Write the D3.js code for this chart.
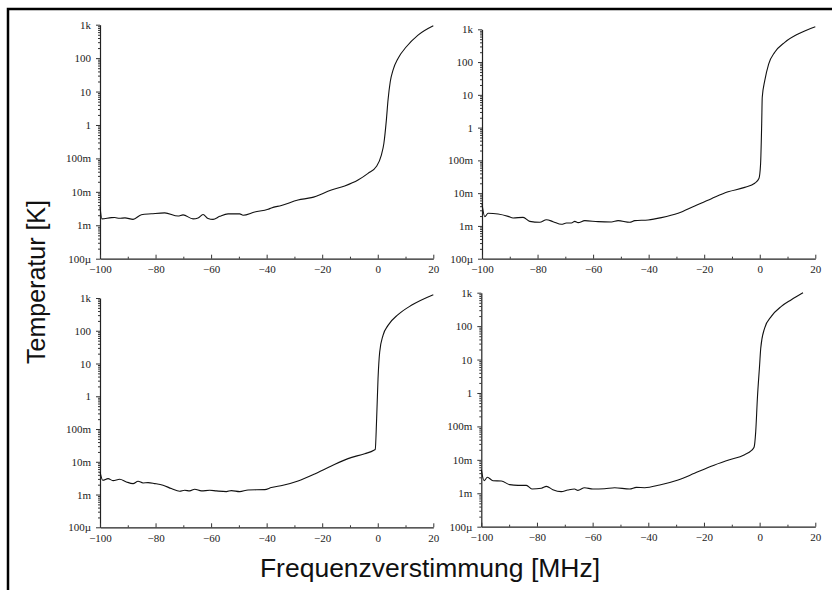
<!DOCTYPE html>
<html>
<head>
<meta charset="utf-8">
<script src="https://cdn.jsdelivr.net/npm/d3@7"></script>
<style>
  body { margin: 0; background: #fff; }
  svg { display: block; }
  .title { font-family: "Liberation Sans", Arial, sans-serif; fill: #111; }
</style>
</head>
<body>
<div id="chart"></div>
<script>
// Data (frequency detuning in MHz, temperature in K)
const yTickValues = [1e-4, 1e-3, 1e-2, 1e-1, 1, 10, 100, 1000];
const yTickLabels = ['100\u00b5', '1m', '10m', '100m', '1', '10', '100', '1k'];
const xTickValues = [-100, -80, -60, -40, -20, 0, 20];
const xMinorValues = [-90, -70, -50, -30, -10, 10];

const p1Freq = [-100, -99.3, -95.9, -94.7, -93, -91, -88.1, -85.1, -81.5, -76.7, -71.9, -70.1, -66.5, -64.7, -62.9, -61.1, -59.3, -56.9, -53.9, -49.7, -48.5, -44.3, -39.5, -38.3, -34.7, -28.7, -23.9, -16.7, -11.9, -7.1, -3.5, -0.5, 1.3, 2.2, 3.1, 3.7, 4.5, 5.5, 7.3, 10.3, 14.5, 20];
const p1Temp = [3.6e-3, 1.55e-3, 1.69e-3, 1.7e-3, 1.62e-3, 1.66e-3, 1.5e-3, 2.07e-3, 2.2e-3, 2.35e-3, 1.9e-3, 2.05e-3, 1.55e-3, 1.65e-3, 2.1e-3, 1.6e-3, 1.5e-3, 1.85e-3, 2.2e-3, 2.2e-3, 2.0e-3, 2.5e-3, 3.0e-3, 3.3e-3, 3.9e-3, 5.7e-3, 6.7e-3, 11.3e-3, 15e-3, 22.6e-3, 35.7e-3, 57e-3, 0.126, 0.28, 1.4, 5.6, 19.7, 44, 98, 219, 490, 933];

const p2Freq = [-100, -99, -97.8, -94.2, -90.6, -88.8, -85.2, -82.8, -79.2, -76.8, -74.4, -71.4, -69.6, -67.8, -66.6, -65.4, -63, -58.2, -53.4, -51, -46.8, -45, -40.2, -35.4, -29.4, -23.4, -17.4, -11.4, -5.4, -1.8, -0.3, 0.3, 0.7, 0.9, 1.8, 3.2, 5.4, 9, 13.8, 20];
const p2Temp = [4.7e-3, 1.92e-3, 2.43e-3, 2.31e-3, 1.96e-3, 1.75e-3, 1.83e-3, 1.38e-3, 1.29e-3, 1.55e-3, 1.35e-3, 1.12e-3, 1.23e-3, 1.23e-3, 1.38e-3, 1.26e-3, 1.45e-3, 1.35e-3, 1.32e-3, 1.45e-3, 1.29e-3, 1.45e-3, 1.52e-3, 1.79e-3, 2.43e-3, 4.07e-3, 6.8e-3, 11e-3, 15e-3, 20e-3, 28e-3, 78e-3, 1.3, 8.4, 27, 87, 199, 400, 720, 1200];

const p3Freq = [-100, -99, -97.1, -95.3, -92.9, -90.5, -88.1, -86.3, -84.5, -82.7, -80.3, -77.3, -74.3, -71.3, -69.5, -67.7, -65.9, -63.5, -60.5, -58.1, -54.5, -52.7, -49.7, -46.7, -40.7, -38.3, -34.1, -28.7, -22.7, -16.7, -10.7, -4.7, -1.4, -0.9, -0.4, 0.1, 0.7, 1.9, 3.7, 7.3, 12.1, 20];
const p3Temp = [4.9e-3, 2.72e-3, 3.06e-3, 2.66e-3, 2.92e-3, 2.43e-3, 2.16e-3, 2.54e-3, 2.26e-3, 2.31e-3, 2.16e-3, 1.92e-3, 1.52e-3, 1.26e-3, 1.35e-3, 1.29e-3, 1.45e-3, 1.29e-3, 1.35e-3, 1.29e-3, 1.23e-3, 1.32e-3, 1.23e-3, 1.38e-3, 1.41e-3, 1.63e-3, 1.92e-3, 2.6e-3, 4.26e-3, 7.46e-3, 12.5e-3, 17.7e-3, 22.4e-3, 24e-3, 0.207, 3.45, 22.5, 72.6, 146, 310, 597, 1260];

const p4Freq = [-100, -99, -97.8, -95.8, -92.8, -89.8, -86.8, -83.8, -81.8, -78.4, -76.6, -74.3, -71.3, -68.9, -66.5, -65.3, -62.9, -59.9, -55.7, -52.1, -46.7, -44.3, -41.3, -35.9, -29.3, -23.4, -17.4, -11.4, -5.4, -3, -2, -1.4, -0.8, 0, 0.4, 1.8, 4.2, 7.8, 11.4, 15.6];
const p4Temp = [5.08e-3, 2.38e-3, 3.0e-3, 2.38e-3, 2.33e-3, 1.81e-3, 1.72e-3, 1.72e-3, 1.34e-3, 1.41e-3, 1.61e-3, 1.28e-3, 1.12e-3, 1.25e-3, 1.34e-3, 1.22e-3, 1.47e-3, 1.34e-3, 1.37e-3, 1.47e-3, 1.34e-3, 1.5e-3, 1.47e-3, 1.77e-3, 2.49e-3, 3.95e-3, 6.4e-3, 9.7e-3, 14.3e-3, 18.8e-3, 23.7e-3, 71e-3, 0.71, 7.0, 22, 87.7, 196, 390, 617, 1000];

// Panel boxes (axis extents in pixels)
const panels = [
    { freq: p1Freq, temp: p1Temp, left: 100, right: 433.3, top: 24.7, bottom: 258.7 },
    { freq: p2Freq, temp: p2Temp, left: 482, right: 815.3, top: 29.3, bottom: 258.7 },
    { freq: p3Freq, temp: p3Temp, left: 100, right: 433.3, top: 298, bottom: 527.3 },
    { freq: p4Freq, temp: p4Temp, left: 481.3, right: 815.3, top: 292.7, bottom: 526.7 }
];

const WIDTH = 832;
const HEIGHT = 590;
const TICK_FONT = '"Liberation Serif", "DejaVu Serif", serif';

const svg = d3.select('#chart').append('svg')
    .attr('width', WIDTH)
    .attr('height', HEIGHT);

// Frame (top and left edge only)
svg.append('path')
    .attr('d', `M8,${HEIGHT} L8,9 L${WIDTH},9`)
    .attr('fill', 'none')
    .attr('stroke', '#000')
    .attr('stroke-width', 2.5);

// minor log ticks 2..9 in each decade
const yMinorValues = [];
for (let e = -4; e < 3; e++) {
    for (let m = 2; m <= 9; m++) yMinorValues.push(m * Math.pow(10, e));
}

panels.forEach(p => {
    const x = d3.scaleLinear().domain([-100, 20]).range([p.left, p.right]);
    const y = d3.scaleLog().domain([1e-4, 1e3]).range([p.bottom, p.top]);

    const g = svg.append('g');

    // y axis minor ticks
    g.append('g')
        .attr('transform', `translate(${p.left},0)`)
        .call(d3.axisLeft(y).tickValues(yMinorValues).tickFormat('').tickSize(2).tickSizeOuter(0))
        .call(a => a.select('.domain').remove());

    // y axis major
    g.append('g')
        .attr('transform', `translate(${p.left},0)`)
        .call(d3.axisLeft(y)
            .tickValues(yTickValues)
            .tickFormat((d, i) => yTickLabels[i])
            .tickSize(4)
            .tickSizeOuter(0)
            .tickPadding(5))
        .attr('font-family', TICK_FONT)
        .attr('font-size', 11);

    // x axis minor ticks (pointing up)
    g.append('g')
        .attr('transform', `translate(0,${p.bottom})`)
        .call(d3.axisBottom(x).tickValues(xMinorValues).tickFormat('').tickSize(-2).tickSizeOuter(0))
        .call(a => a.select('.domain').remove());

    // x axis major
    g.append('g')
        .attr('transform', `translate(0,${p.bottom})`)
        .call(d3.axisBottom(x)
            .tickValues(xTickValues)
            .tickFormat(d3.format('d'))
            .tickSize(-4)
            .tickSizeOuter(0)
            .tickPadding(7))
        .attr('font-family', TICK_FONT)
        .attr('font-size', 11);

    g.selectAll('.domain').attr('stroke', '#222').attr('stroke-width', 1.2);
    g.selectAll('.tick line').attr('stroke', '#333');
    g.selectAll('.tick text').attr('fill', '#222');

    const line = d3.line()
        .x((d, i) => x(p.freq[i]))
        .y(d => y(d))
        .curve(d3.curveMonotoneX);

    g.append('path')
        .datum(p.temp)
        .attr('d', line)
        .attr('fill', 'none')
        .attr('stroke', '#111')
        .attr('stroke-width', 1.1);
});

// Axis titles
svg.append('text')
    .attr('class', 'title')
    .attr('font-size', 25)
    .attr('text-anchor', 'middle')
    .attr('transform', 'translate(45,282) rotate(-90)')
    .text('Temperatur [K]');

svg.append('text')
    .attr('class', 'title')
    .attr('font-size', 26.5)
    .attr('text-anchor', 'middle')
    .attr('x', 430)
    .attr('y', 577)
    .text('Frequenzverstimmung [MHz]');
</script>
</body>
</html>
